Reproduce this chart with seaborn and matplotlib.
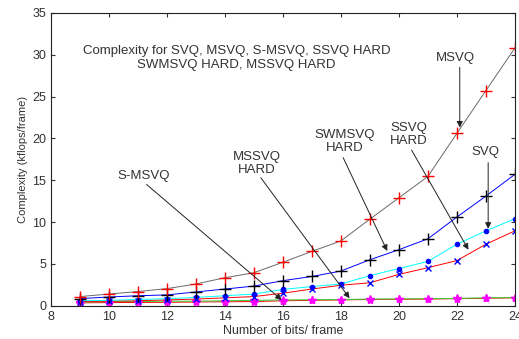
import matplotlib
matplotlib.use('Agg')
import matplotlib.pyplot as plt
import seaborn as sns
import pandas as pd
import numpy as np

# data
bits = [9, 10, 11, 12, 13, 14, 15, 16, 17, 18, 19, 20, 21, 22, 23, 24]
msvq = [1.1, 1.4, 1.7, 2.05, 2.6, 3.35, 3.95, 5.2, 6.5, 7.75, 10.35, 12.9, 15.45, 20.6, 25.7, 30.8]
swmsvq_hard = [0.85, 1.05, 1.2, 1.3, 1.65, 2.0, 2.35, 3.0, 3.5, 4.15, 5.5, 6.7, 8.0, 10.6, 13.1, 15.7]
svq = [0.6, 0.65, 0.75, 0.85, 1.0, 1.2, 1.4, 1.95, 2.3, 2.6, 3.6, 4.45, 5.3, 7.35, 8.95, 10.4]
ssvq_hard = [0.5, 0.55, 0.6, 0.7, 0.8, 0.95, 1.1, 1.5, 2.0, 2.45, 2.75, 3.75, 4.55, 5.4, 7.35, 8.95]
s_msvq = [0.45, 0.5, 0.5, 0.55, 0.55, 0.6, 0.65, 0.7, 0.72, 0.75, 0.8, 0.82, 0.85, 0.88, 0.95, 0.98]
mssvq_hard = [0.35, 0.38, 0.4, 0.42, 0.45, 0.48, 0.5, 0.6, 0.65, 0.7, 0.75, 0.78, 0.8, 0.85, 0.9, 0.95]

sns.set_style('ticks')
plt.rcParams['font.family'] = ['Liberation Sans', 'DejaVu Sans']

fig = plt.figure(figsize=(5.19, 3.39), dpi=100)
ax = fig.add_axes([0.098, 0.098, 0.894, 0.864])

# (values, line colour, marker, marker colour, marker size)
series = [
    (mssvq_hard, 'red', '*', 'magenta', 6),
    (s_msvq, 'limegreen', '*', 'magenta', 6),
    (ssvq_hard, 'red', 'x', 'blue', 4),
    (svq, 'cyan', 'o', 'blue', 3),
    (swmsvq_hard, 'blue', '+', 'black', 8),
    (msvq, 'dimgray', '+', 'red', 8),
]
for vals, lc, mk, mc, ms in series:
    df = pd.DataFrame({'bits': bits, 'cx': vals})
    sns.lineplot(data=df, x='bits', y='cx', ax=ax, color=lc, lw=0.7,
                 marker=mk, markersize=ms, markeredgecolor=mc,
                 markerfacecolor=mc, markeredgewidth=1.0)

ax.set_xlim(8, 24)
ax.set_ylim(0, 35)
ax.set_xticks(range(8, 25, 2))
ax.set_yticks(range(0, 36, 5))
ax.tick_params(direction='in', top=True, right=True, length=3,
               labelsize=9, colors='#333333')
for sp in ax.spines.values():
    sp.set_visible(True)
    sp.set_linewidth(0.8)
    sp.set_color('#222222')
ax.set_xlabel('Number of bits/ frame', fontsize=9, color='#333333', labelpad=2)
ax.set_ylabel('Complexity (kflops/frame)', fontsize=8, color='#333333', labelpad=3)

ax.text(14.4, 29.65, 'Complexity for SVQ, MSVQ, S-MSVQ, SSVQ HARD\nSWMSVQ HARD, MSSVQ HARD',
        ha='center', va='center', fontsize=9.5, color='#333333', linespacing=1.25)

arrow = dict(arrowstyle='-|>', color='#222222', lw=0.7, mutation_scale=9,
             shrinkA=0, shrinkB=0)
# label, arrow tip, text centre, arrow start
notes = [
    ('MSVQ', (22.1, 21.3), (21.95, 29.6), (22.1, 28.5)),
    ('SVQ', (23.08, 9.2), (23.0, 18.35), (23.08, 17.1)),
    ('SSVQ\nHARD', (22.4, 6.7), (20.34, 20.5), (20.44, 18.6)),
    ('SWMSVQ\nHARD', (19.6, 6.55), (18.14, 19.6), (18.08, 17.7)),
    ('MSSVQ\nHARD', (18.3, 0.9), (15.09, 17.0), (15.24, 15.3)),
    ('S-MSVQ', (15.96, 0.7), (11.2, 15.5), (11.3, 14.5)),
]
for label, tip, txt, st in notes:
    ax.annotate('', xy=tip, xytext=st, arrowprops=arrow)
    ax.text(txt[0], txt[1], label, ha='center', va='center', fontsize=9.5,
            color='#333333', linespacing=1.1)

fig.savefig('out.png', dpi=100)
